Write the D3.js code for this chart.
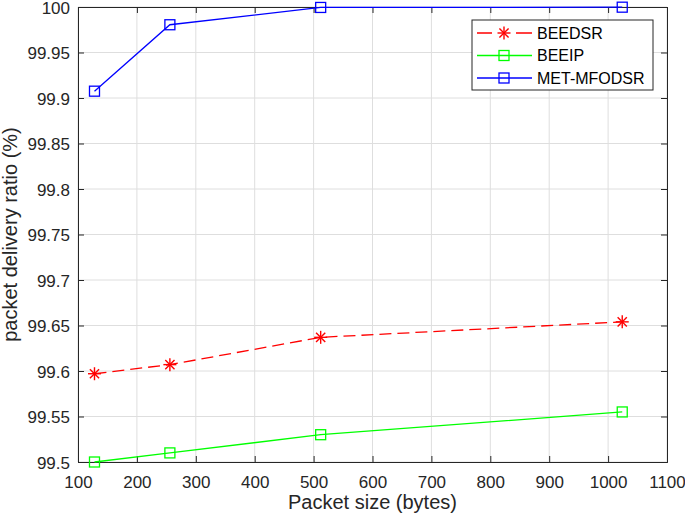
<!DOCTYPE html>
<html>
<head>
<meta charset="utf-8">
<script src="https://cdn.jsdelivr.net/npm/d3@7"></script>
<style>
  body { margin: 0; background: #fff; }
  svg { font-family: "Liberation Sans", Arial, sans-serif; }
</style>
</head>
<body>
<div id="chart"></div>
<script>
// packet sizes (bytes)
var packetSizes = [128, 256, 512, 1024];

// packet delivery ratio (%) per protocol
var beedsr = [99.597, 99.607, 99.637, 99.654];
var beeip = [99.5, 99.51, 99.53, 99.555];
var metMfodsr = [99.9075, 99.9805, 99.9995, 99.9998];

var xTicks = [100, 200, 300, 400, 500, 600, 700, 800, 900, 1000, 1100];
var yTicks = [99.5, 99.55, 99.6, 99.65, 99.7, 99.75, 99.8, 99.85, 99.9, 99.95, 100];

var series = [
  {name: "BEEDSR", values: beedsr, color: "#ff0000", dash: "12,6", marker: "star"},
  {name: "BEEIP", values: beeip, color: "#00ff00", dash: null, marker: "square"},
  {name: "MET-MFODSR", values: metMfodsr, color: "#0000ff", dash: null, marker: "square"}
];

var W = 685, H = 517;
var margin = {top: 7, right: 18, bottom: 55, left: 78};
var width = W - margin.left - margin.right,
    height = H - margin.top - margin.bottom;

var svg = d3.select("#chart").append("svg")
    .attr("width", W)
    .attr("height", H);

var g = svg.append("g")
    .attr("transform", "translate(" + margin.left + "," + margin.top + ")");

var x = d3.scaleLinear().domain([100, 1100]).range([0, width]);
var y = d3.scaleLinear().domain([99.5, 100]).range([height, 0]);

// grid
g.append("g").selectAll("line").data(xTicks).enter().append("line")
    .attr("x1", d => x(d)).attr("x2", d => x(d))
    .attr("y1", 0).attr("y2", height)
    .attr("stroke", "#dedede").attr("stroke-width", 1);
g.append("g").selectAll("line").data(yTicks).enter().append("line")
    .attr("y1", d => y(d)).attr("y2", d => y(d))
    .attr("x1", 0).attr("x2", width)
    .attr("stroke", "#dedede").attr("stroke-width", 1);

// axes (ticks pointing inward, box on all sides)
var tickLen = 6;
var xAxis = g.append("g")
    .attr("transform", "translate(0," + height + ")")
    .call(d3.axisBottom(x).tickValues(xTicks).tickSize(-tickLen).tickPadding(14).tickFormat(d3.format("d")));
var yAxis = g.append("g")
    .call(d3.axisLeft(y).tickValues(yTicks).tickSize(-tickLen).tickPadding(8).tickFormat(d => String(+d.toFixed(2))));
var xTop = g.append("g")
    .call(d3.axisTop(x).tickValues(xTicks).tickSize(-tickLen).tickFormat(""));
var yRight = g.append("g")
    .attr("transform", "translate(" + width + ",0)")
    .call(d3.axisRight(y).tickValues(yTicks).tickSize(-tickLen).tickFormat(""));

[xAxis, yAxis, xTop, yRight].forEach(function(a) {
  a.select(".domain").attr("stroke", "#262626").attr("stroke-width", 1);
  a.selectAll(".tick line").attr("stroke", "#262626");
  a.selectAll(".tick text").attr("fill", "#262626").style("font-size", "17px").style("font-family", "'Liberation Sans', Arial, sans-serif");
});
yAxis.selectAll(".tick text").attr("dy", "0.36em");

// axis labels
svg.append("text")
    .attr("x", margin.left + width / 2)
    .attr("y", 509)
    .attr("text-anchor", "middle")
    .attr("fill", "#262626")
    .style("font-size", "20px")
    .text("Packet size (bytes)");
svg.append("text")
    .attr("transform", "translate(17," + (margin.top + height / 2) + ") rotate(-90)")
    .attr("text-anchor", "middle")
    .attr("fill", "#262626")
    .style("font-size", "20px")
    .text("packet delivery ratio (%)");

var line = d3.line().x(d => x(d[0])).y(d => y(d[1]));

function drawMarker(sel, type, color) {
  if (type === "square") {
    sel.append("rect")
      .attr("x", -5).attr("y", -5).attr("width", 10).attr("height", 10)
      .attr("fill", "none").attr("stroke", color).attr("stroke-width", 1.3);
  } else {
    var r = 6.5;
    [0, 45, 90, 135].forEach(function(a) {
      var rad = a * Math.PI / 180;
      sel.append("line")
        .attr("x1", -r * Math.cos(rad)).attr("y1", -r * Math.sin(rad))
        .attr("x2", r * Math.cos(rad)).attr("y2", r * Math.sin(rad))
        .attr("stroke", color).attr("stroke-width", 1.4);
    });
  }
}

var plot = g.append("g");
series.forEach(function(s) {
  var pts = packetSizes.map((p, i) => [p, s.values[i]]);
  plot.append("path")
    .datum(pts)
    .attr("d", line)
    .attr("fill", "none")
    .attr("stroke", s.color)
    .attr("stroke-width", 1.3)
    .attr("stroke-dasharray", s.dash);
  pts.forEach(function(p) {
    var m = plot.append("g").attr("transform", "translate(" + x(p[0]) + "," + y(p[1]) + ")");
    drawMarker(m, s.marker, s.color);
  });
});

// legend
var lx = 472 - margin.left, ly = 20 - margin.top;
var legend = g.append("g").attr("transform", "translate(" + lx + "," + ly + ")");
legend.append("rect")
  .attr("width", 181).attr("height", 70)
  .attr("fill", "#fff").attr("stroke", "#262626").attr("stroke-width", 1);
series.forEach(function(s, i) {
  var rowY = 13 + i * 22.5;
  legend.append("line")
    .attr("x1", 5).attr("x2", 60).attr("y1", rowY).attr("y2", rowY)
    .attr("stroke", s.color).attr("stroke-width", 1.3)
    .attr("stroke-dasharray", s.dash ? "15,24,16" : null);
  var m = legend.append("g").attr("transform", "translate(32," + rowY + ")");
  drawMarker(m, s.marker, s.color);
  legend.append("text")
    .attr("x", 65).attr("y", rowY).attr("dy", "0.36em")
    .attr("fill", "#000")
    .style("font-size", "16px")
    .text(s.name);
});
</script>
</body>
</html>
